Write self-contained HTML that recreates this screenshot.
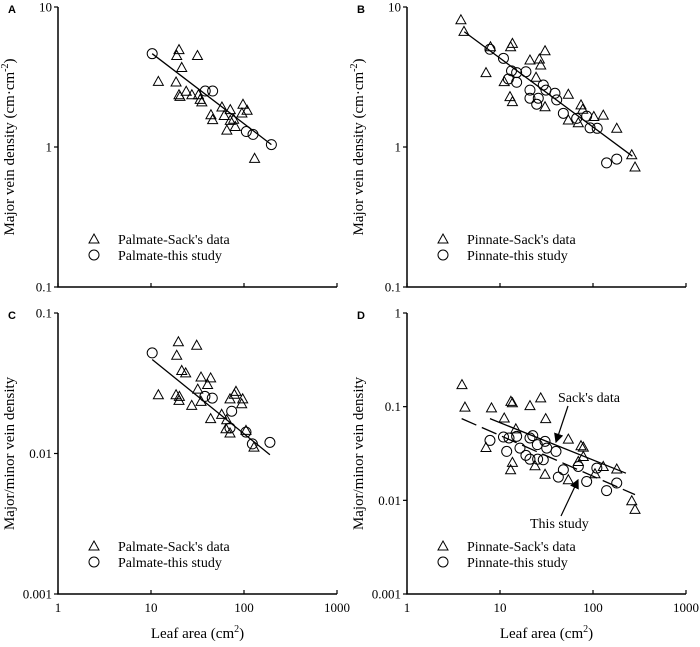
<!DOCTYPE html>
<html><head><meta charset="utf-8"><style>
body{margin:0;background:#fff;}
svg{display:block;font-family:"Liberation Serif",serif;}
</style></head><body>
<svg id="chart" width="700" height="647" viewBox="0 0 700 647"></svg>
<script>
// Panel A (palmate, major vein density)
const aSackX=[20.0,18.9,21.4,31.6,12.0,18.6,20.0,20.5,23.9,27.5,32.4,33.8,35.2,44.1,46,57.9,61.3,65.4,71.2,71.2,77.4,80.6,97.5,95,108,130];
const aSackY=[4.96,4.5,3.7,4.5,2.94,2.91,2.36,2.30,2.5,2.36,2.36,2.19,2.10,1.70,1.57,1.93,1.68,1.32,1.85,1.55,1.58,1.40,2.02,1.75,1.83,0.83];
const aStudyX=[10.3,38.3,46,106,125,197];
const aStudyY=[4.64,2.51,2.51,1.29,1.23,1.04];
const aFitX=[10.3,197];
const aFitY=[4.64,1.04];
// Panel B (pinnate, major vein density)
const bSackX=[3.8,4.1,7.9,13.6,13.0,30.5,21,26.5,27.4,7.07,11.1,24.4,12.8,13.6,30.5,54.3,74.3,77.5,54.3,69.5,102,129,180,261,283];
const bSackY=[8.1,6.7,5.2,5.5,5.2,4.87,4.18,4.25,3.85,3.4,2.93,3.15,2.29,2.11,1.94,2.38,2.0,1.86,1.56,1.49,1.65,1.69,1.36,0.88,0.72];
const bStudyX=[7.8,10.9,13.3,15.1,19,12.3,15.1,21,29.2,31.2,39,21,25.8,24.8,40.7,48,66.7,85.5,93,111,140,180];
const bStudyY=[4.99,4.3,3.5,3.4,3.45,3.06,2.9,2.55,2.77,2.55,2.42,2.23,2.23,2.02,2.17,1.74,1.6,1.66,1.37,1.36,0.77,0.82];
const bFitX=[4.13,265];
const bFitY=[6.66,0.86];
// Panel C (palmate, major/minor ratio)
const cSackX=[19.7,31,18.9,21.4,23.6,34.5,43.8,40.6,31.8,12,18.6,20.2,20,27.4,34.5,82,78.7,70.7,96.8,94.4,43.8,57.5,65.2,64,70.7,105,128];
const cSackY=[0.0624,0.059,0.050,0.039,0.0375,0.035,0.0345,0.031,0.0287,0.0262,0.0262,0.0255,0.0239,0.022,0.0235,0.0277,0.0264,0.0245,0.0245,0.0226,0.0177,0.019,0.0174,0.015,0.014,0.0146,0.0111];
const cStudyX=[10.3,38,45.6,73.7,70.7,105,123,190];
const cStudyY=[0.052,0.0255,0.0248,0.020,0.0152,0.0142,0.0117,0.012];
const cFitX=[10.3,190];
const cFitY=[0.0467,0.0098];
// Panel D (pinnate, major/minor ratio)
const dSackX=[3.9,4.2,8.1,13.1,13.6,27.4,21,11.1,31,14.8,7.07,54.3,74.3,78.7,78.7,69.5,13.6,13,23.8,30.5,54.3,105,129,180,261,283];
const dSackY=[0.172,0.099,0.097,0.114,0.11,0.124,0.1026,0.0757,0.0745,0.058,0.0367,0.045,0.0383,0.037,0.0294,0.026,0.0254,0.0212,0.0234,0.019,0.0166,0.0192,0.023,0.0216,0.0099,0.008];
const dStudyX=[7.8,10.9,12.5,15.1,11.8,16.4,19,21,22.5,21,25.2,30.5,31.8,29.2,25.4,40,42.4,48,69.5,85.5,110,140,180];
const dStudyY=[0.0436,0.0474,0.0463,0.0482,0.0333,0.0361,0.0302,0.0463,0.049,0.0275,0.0393,0.0426,0.0361,0.0271,0.0275,0.0333,0.0177,0.0212,0.023,0.0159,0.0221,0.0127,0.0153];
const dSackFitX=[7.8,226];
const dSackFitY=[0.0745,0.0195];
const dStudyFitX=[3.87,283];
const dStudyFitY=[0.0745,0.0115];
const xTicks=[1,10,100,1000];
const xTickLabels=["1","10","100","1000"];

const NS="http://www.w3.org/2000/svg";
const svg=document.getElementById('chart');
function mk(tag,attrs,parent){const e=document.createElementNS(NS,tag);for(const k in attrs)e.setAttribute(k,attrs[k]);(parent||svg).appendChild(e);return e;}

function panel(o){
  const g=mk('g',{});
  
  
  const decX=93;
  const xs=v=>o.x0+Math.log10(v)*decX;
  const ys=v=>o.yb-(Math.log10(v)-o.ymin)*(o.yb-o.yt)/(o.ymax-o.ymin);
  const axes=mk('path',{d:`M${o.x0} ${o.yt}V${o.yb}H${o.x0+3*decX}`,fill:'none',stroke:'#000','stroke-width':1.5},g);
  
  
  xTicks.forEach((t,i)=>{
    const x=xs(t);
    const tk=mk('line',{x1:x,x2:x,y1:o.yb,y2:o.yb-4,stroke:'#000','stroke-width':1.2},g);
    
    
    if(o.xlabels){
      const tl=mk('text',{x:x,y:o.yb+18,'text-anchor':'middle','font-size':13},g);
      
      
      tl.textContent=xTickLabels[i];
    }
  });
  o.yTicks.forEach((t,i)=>{
    const y=ys(t);
    const tk=mk('line',{x1:o.x0,x2:o.x0-4,y1:y,y2:y,stroke:'#000','stroke-width':1.2},g);
    
    
    const tl=mk('text',{x:o.x0-6,y:y+4.5,'text-anchor':'end','font-size':13},g);
    
    
    tl.textContent=o.yTickLabels[i];
  });
  const lt=mk('text',{x:o.x0-50,y:o.yt+6,'font-size':11,'font-weight':'bold','font-family':'Liberation Sans, sans-serif'},g);
  
  
  lt.textContent=o.letter;
  const cy=(o.yt+o.yb)/2;
  const yl=mk('text',{x:o.x0-44,y:cy,'text-anchor':'middle','font-size':15,transform:`rotate(-90 ${o.x0-44} ${cy})`},g);
  
  
  if(o.unit){yl.innerHTML='Major vein density (cm·cm<tspan dy="-6" font-size="10">-2</tspan><tspan dy="6">)</tspan>';}
  else yl.textContent='Major/minor vein density';
  if(o.xlabels){
    const xl=mk('text',{x:o.x0+1.5*decX,y:o.yb+44,'text-anchor':'middle','font-size':15},g);
    
    
    xl.innerHTML='Leaf area (cm<tspan dy="-6" font-size="10">2</tspan><tspan dy="6">)</tspan>';
  }
  o.fits.forEach(f=>{
    const l=mk('line',{x1:xs(f.x[0]),y1:ys(f.y[0]),x2:xs(f.x[1]),y2:ys(f.y[1]),stroke:'#000','stroke-width':1.3},g);
    if(f.dash)l.setAttribute('stroke-dasharray','16 6');
    
    
  });
  o.sackX.forEach((v,i)=>{
    const x=xs(v),y=ys(o.sackY[i]);
    const p=mk('path',{d:`M${x} ${y-5}L${x+5} ${y+4}L${x-5} ${y+4}Z`,fill:'none',stroke:'#000','stroke-width':1},g);
    
    
  });
  o.studyX.forEach((v,i)=>{
    const c=mk('circle',{cx:xs(v),cy:ys(o.studyY[i]),r:5,fill:'none',stroke:'#000','stroke-width':1},g);
    
    
  });
  const lg=mk('g',{},g);
  
  
  const lx=o.x0+36, ly=o.yb-48;
  mk('path',{d:`M${lx} ${ly-5}L${lx+5} ${ly+4}L${lx-5} ${ly+4}Z`,fill:'none',stroke:'#000'},lg);
  const t1=mk('text',{x:lx+24,y:ly+5,'font-size':14},lg);t1.textContent=o.name+"-Sack's data";
  mk('circle',{cx:lx,cy:ly+16,r:5,fill:'none',stroke:'#000'},lg);
  const t2=mk('text',{x:lx+24,y:ly+21,'font-size':14},lg);t2.textContent=o.name+"-this study";
  return {xs,ys,g};
}
panel({letter:'A',x0:58,yt:7,yb:287,ymin:-1,ymax:1,yTicks:[0.1,1,10],yTickLabels:["0.1","1","10"],unit:true,xlabels:false,name:'Palmate',
  sackX:aSackX,sackY:aSackY,studyX:aStudyX,studyY:aStudyY,fits:[{x:aFitX,y:aFitY,name:'fit-line'}]});
panel({letter:'B',x0:407,yt:7,yb:287,ymin:-1,ymax:1,yTicks:[0.1,1,10],yTickLabels:["0.1","1","10"],unit:true,xlabels:false,name:'Pinnate',
  sackX:bSackX,sackY:bSackY,studyX:bStudyX,studyY:bStudyY,fits:[{x:bFitX,y:bFitY,name:'fit-line'}]});
panel({letter:'C',x0:58,yt:313,yb:594,ymin:-3,ymax:-1,yTicks:[0.001,0.01,0.1],yTickLabels:["0.001","0.01","0.1"],unit:false,xlabels:true,name:'Palmate',
  sackX:cSackX,sackY:cSackY,studyX:cStudyX,studyY:cStudyY,fits:[{x:cFitX,y:cFitY,name:'fit-line'}]});
const D=panel({letter:'D',x0:407,yt:313,yb:594,ymin:-3,ymax:0,yTicks:[0.001,0.01,0.1,1],yTickLabels:["0.001","0.01","0.1","1"],unit:false,xlabels:true,name:'Pinnate',
  sackX:dSackX,sackY:dSackY,studyX:dStudyX,studyY:dStudyY,fits:[{x:dSackFitX,y:dSackFitY,name:'sack-fit-line'},{x:dStudyFitX,y:dStudyFitY,name:'study-fit-line',dash:true}]});
// annotations
mk('defs',{}).innerHTML='<marker id="ah" markerWidth="8" markerHeight="8" refX="7" refY="4" orient="auto"><path d="M0 0L8 4L0 8Z" fill="#000"/></marker>';
const s1=mk('text',{x:558,y:402,'font-size':14},D.g);s1.textContent="Sack's data";


const a1=mk('line',{x1:568,y1:406,x2:556,y2:442,stroke:'#000','stroke-width':1.2,'marker-end':'url(#ah)'},D.g);


const s2=mk('text',{x:530,y:528,'font-size':14},D.g);s2.textContent="This study";


const a2=mk('line',{x1:561,y1:516,x2:578,y2:480,stroke:'#000','stroke-width':1.2,'marker-end':'url(#ah)'},D.g);


</script>
</body></html>
